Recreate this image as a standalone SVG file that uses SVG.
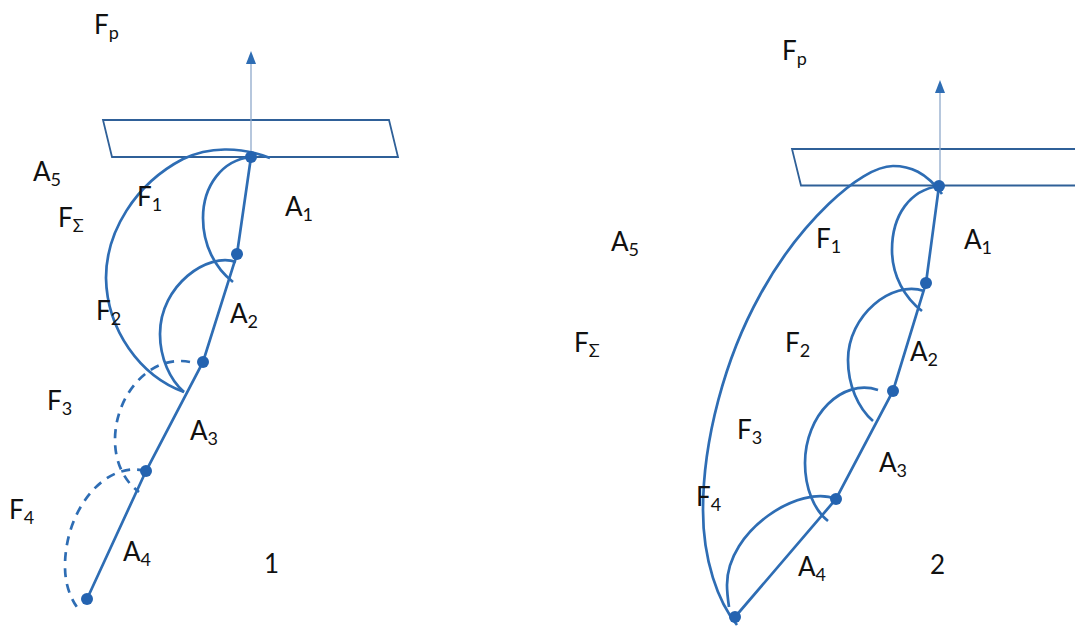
<svg xmlns="http://www.w3.org/2000/svg" width="1075" height="626" viewBox="0 0 1075 626">
<style>
text{font-family:Lato,"Liberation Sans",sans-serif;font-size:26px;fill:#111}
.s{font-size:18px}
.plate{fill:none;stroke:#2f6098;stroke-width:1.8}
.c{fill:none;stroke:#2e6db4;stroke-width:2.7}
.d{fill:none;stroke:#2e6db4;stroke-width:2.7;stroke-dasharray:9 7}
.ax{fill:none;stroke:#8fa9cb;stroke-width:1.3}
.h{fill:#2e6db4}
.j{fill:#2463b0}
</style>
<rect width="1075" height="626" fill="#fff"/>
<g id="figure-1">
<path class="plate" d="M103,120H389L398,157H112Z"/>
<path class="ax" d="M251,157V60"/>
<path class="h" d="M251,51L256,64H246Z"/>
<path class="c" d="M251,157L237,254L203,362L146,471L87,599"/>
<path class="c" d="M270,158C240,146 208,147 183,159C135,184 106,232 106,278C107,330 140,376 184,392"/>
<path class="c" d="M251,157C222,160 203,186 203,218C203,245 215,268 233,282"/>
<path class="c" d="M236,262C208,252 160,285 160,334C160,358 170,380 184,392"/>
<path class="d" d="M190,362C150,354 115,395 115,440C115,462 124,481 139,492"/>
<path class="d" d="M146,471C105,460 65,510 65,566C65,584 70,598 79,610"/>
<circle class="j" cx="251" cy="157" r="6"/>
<circle class="j" cx="237" cy="254" r="6"/>
<circle class="j" cx="203" cy="362" r="6"/>
<circle class="j" cx="146" cy="471" r="6"/>
<circle class="j" cx="87" cy="599" r="6"/>
</g>
<g id="figure-2">
<path class="plate" d="M1075,149H792L801,185.500H1075"/>
<path class="ax" d="M940,185V90"/>
<path class="h" d="M940,80L945,93H935Z"/>
<path class="c" d="M939,186L926,283L893,391L836,499L735,617"/>
<path class="c" d="M942,194C926,172 910,166 893,166C860,166 798,225 760,295C725,358 703,440 703,510C703,560 718,602 737,625"/>
<path class="c" d="M939,186C910,190 892,215 892,250C892,276 905,298 922,311"/>
<path class="c" d="M924,291C892,280 848,315 848,360C848,385 858,408 873,421"/>
<path class="c" d="M878,390C842,378 805,415 805,463C805,488 814,510 828,521"/>
<path class="c" d="M836,499C800,484 727,530 727,585C727,593 728,600 729,607"/>
<circle class="j" cx="939" cy="186" r="6"/>
<circle class="j" cx="926" cy="283" r="6"/>
<circle class="j" cx="893" cy="391" r="6"/>
<circle class="j" cx="836" cy="499" r="6"/>
<circle class="j" cx="735" cy="617" r="6"/>
</g>
<g id="labels-1">
<text x="94" y="34">F<tspan class="s" dy="5">p</tspan></text>
<text x="33" y="181">A<tspan class="s" dy="5">5</tspan></text>
<text x="58" y="227">F<tspan class="s" dy="5">Σ</tspan></text>
<text x="137" y="206">F<tspan class="s" dy="5">1</tspan></text>
<text x="285" y="216">A<tspan class="s" dy="5">1</tspan></text>
<text x="96" y="320">F<tspan class="s" dy="5">2</tspan></text>
<text x="230" y="323">A<tspan class="s" dy="5">2</tspan></text>
<text x="47" y="410">F<tspan class="s" dy="5">3</tspan></text>
<text x="190" y="440">A<tspan class="s" dy="5">3</tspan></text>
<text x="9" y="519">F<tspan class="s" dy="5">4</tspan></text>
<text x="123" y="561">A<tspan class="s" dy="5">4</tspan></text>
<text x="264" y="573">1</text>
</g>
<g id="labels-2">
<text x="782" y="60">F<tspan class="s" dy="5">p</tspan></text>
<text x="611" y="251">A<tspan class="s" dy="5">5</tspan></text>
<text x="574" y="352">F<tspan class="s" dy="5">Σ</tspan></text>
<text x="816" y="248">F<tspan class="s" dy="5">1</tspan></text>
<text x="964" y="249">A<tspan class="s" dy="5">1</tspan></text>
<text x="785" y="352">F<tspan class="s" dy="5">2</tspan></text>
<text x="910" y="361">A<tspan class="s" dy="5">2</tspan></text>
<text x="737" y="439">F<tspan class="s" dy="5">3</tspan></text>
<text x="879" y="472">A<tspan class="s" dy="5">3</tspan></text>
<text x="696" y="506">F<tspan class="s" dy="5">4</tspan></text>
<text x="798" y="576">A<tspan class="s" dy="5">4</tspan></text>
<text x="930" y="574">2</text>
</g>
</svg>
